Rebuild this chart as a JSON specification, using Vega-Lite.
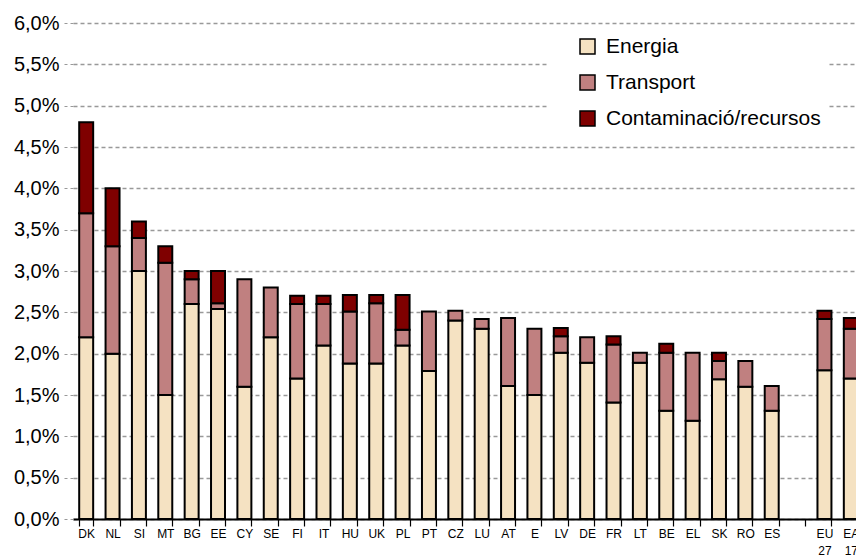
{
  "$schema": "https://vega.github.io/schema/vega-lite/v6.json",
  "autosize": {"type": "none"},
  "padding": {"left": 73, "top": 23, "right": 0, "bottom": 37},
  "width": 783,
  "height": 496,
  "background": "white",
  "config": {"view": {"stroke": null}, "font": "Liberation Sans"},
  "data": {"values": [
    {"country": "DK", "cat": "Energia", "value": 2.2}, {"country": "DK", "cat": "Transport", "value": 1.5}, {"country": "DK", "cat": "Contaminació/recursos", "value": 1.1},
    {"country": "NL", "cat": "Energia", "value": 2.0}, {"country": "NL", "cat": "Transport", "value": 1.3}, {"country": "NL", "cat": "Contaminació/recursos", "value": 0.7},
    {"country": "SI", "cat": "Energia", "value": 3.0}, {"country": "SI", "cat": "Transport", "value": 0.4}, {"country": "SI", "cat": "Contaminació/recursos", "value": 0.2},
    {"country": "MT", "cat": "Energia", "value": 1.5}, {"country": "MT", "cat": "Transport", "value": 1.6}, {"country": "MT", "cat": "Contaminació/recursos", "value": 0.2},
    {"country": "BG", "cat": "Energia", "value": 2.6}, {"country": "BG", "cat": "Transport", "value": 0.3}, {"country": "BG", "cat": "Contaminació/recursos", "value": 0.1},
    {"country": "EE", "cat": "Energia", "value": 2.54}, {"country": "EE", "cat": "Transport", "value": 0.07}, {"country": "EE", "cat": "Contaminació/recursos", "value": 0.39},
    {"country": "CY", "cat": "Energia", "value": 1.6}, {"country": "CY", "cat": "Transport", "value": 1.3},
    {"country": "SE", "cat": "Energia", "value": 2.2}, {"country": "SE", "cat": "Transport", "value": 0.6},
    {"country": "FI", "cat": "Energia", "value": 1.7}, {"country": "FI", "cat": "Transport", "value": 0.9}, {"country": "FI", "cat": "Contaminació/recursos", "value": 0.1},
    {"country": "IT", "cat": "Energia", "value": 2.1}, {"country": "IT", "cat": "Transport", "value": 0.5}, {"country": "IT", "cat": "Contaminació/recursos", "value": 0.1},
    {"country": "HU", "cat": "Energia", "value": 1.88}, {"country": "HU", "cat": "Transport", "value": 0.63}, {"country": "HU", "cat": "Contaminació/recursos", "value": 0.2},
    {"country": "UK", "cat": "Energia", "value": 1.88}, {"country": "UK", "cat": "Transport", "value": 0.73}, {"country": "UK", "cat": "Contaminació/recursos", "value": 0.1},
    {"country": "PL", "cat": "Energia", "value": 2.1}, {"country": "PL", "cat": "Transport", "value": 0.19}, {"country": "PL", "cat": "Contaminació/recursos", "value": 0.42},
    {"country": "PT", "cat": "Energia", "value": 1.79}, {"country": "PT", "cat": "Transport", "value": 0.72},
    {"country": "CZ", "cat": "Energia", "value": 2.4}, {"country": "CZ", "cat": "Transport", "value": 0.12},
    {"country": "LU", "cat": "Energia", "value": 2.3}, {"country": "LU", "cat": "Transport", "value": 0.12},
    {"country": "AT", "cat": "Energia", "value": 1.61}, {"country": "AT", "cat": "Transport", "value": 0.82},
    {"country": "E", "cat": "Energia", "value": 1.5}, {"country": "E", "cat": "Transport", "value": 0.8},
    {"country": "LV", "cat": "Energia", "value": 2.01}, {"country": "LV", "cat": "Transport", "value": 0.2}, {"country": "LV", "cat": "Contaminació/recursos", "value": 0.1},
    {"country": "DE", "cat": "Energia", "value": 1.89}, {"country": "DE", "cat": "Transport", "value": 0.31},
    {"country": "FR", "cat": "Energia", "value": 1.41}, {"country": "FR", "cat": "Transport", "value": 0.7}, {"country": "FR", "cat": "Contaminació/recursos", "value": 0.1},
    {"country": "LT", "cat": "Energia", "value": 1.89}, {"country": "LT", "cat": "Transport", "value": 0.12},
    {"country": "BE", "cat": "Energia", "value": 1.31}, {"country": "BE", "cat": "Transport", "value": 0.7}, {"country": "BE", "cat": "Contaminació/recursos", "value": 0.11},
    {"country": "EL", "cat": "Energia", "value": 1.19}, {"country": "EL", "cat": "Transport", "value": 0.82},
    {"country": "SK", "cat": "Energia", "value": 1.69}, {"country": "SK", "cat": "Transport", "value": 0.22}, {"country": "SK", "cat": "Contaminació/recursos", "value": 0.1},
    {"country": "RO", "cat": "Energia", "value": 1.6}, {"country": "RO", "cat": "Transport", "value": 0.31},
    {"country": "ES", "cat": "Energia", "value": 1.31}, {"country": "ES", "cat": "Transport", "value": 0.3},
    {"country": "EU 27", "cat": "Energia", "value": 1.8}, {"country": "EU 27", "cat": "Transport", "value": 0.62}, {"country": "EU 27", "cat": "Contaminació/recursos", "value": 0.1},
    {"country": "EA 17", "cat": "Energia", "value": 1.7}, {"country": "EA 17", "cat": "Transport", "value": 0.6}, {"country": "EA 17", "cat": "Contaminació/recursos", "value": 0.13}
  ]},
  "transform": [
    {"calculate": "datum.cat === 'Energia' ? 0 : datum.cat === 'Transport' ? 1 : 2", "as": "ord"}
  ],
  "mark": {"type": "bar", "stroke": "black", "strokeWidth": 2},
  "encoding": {
    "x": {
      "field": "country", "type": "nominal",
      "scale": {
        "domain": ["DK","NL","SI","MT","BG","EE","CY","SE","FI","IT","HU","UK","PL","PT","CZ","LU","AT","E","LV","DE","FR","LT","BE","EL","SK","RO","ES","gap","EU 27","EA 17"],
        "range": [0, 791],
        "paddingInner": 0.47,
        "paddingOuter": 0.235
      },
      "axis": {
        "title": null,
        "labelAngle": 0,
        "labelFontSize": 12,
        "labelColor": "black",
        "labelLineHeight": 17,
        "labelPadding": 2,
        "labelExpr": "!isString(datum.value) || datum.value == 'gap' ? '' : split(datum.value, ' ')",
        "domainColor": "black",
        "domainWidth": 2,
        "tickColor": "black",
        "tickWidth": 1.2,
        "tickSize": 7,
        "tickBand": "extent",
        "grid": false
      }
    },
    "y": {
      "field": "value", "type": "quantitative", "stack": "zero",
      "scale": {"domain": [0, 6], "nice": false},
      "axis": {
        "title": null,
        "values": [0, 0.5, 1, 1.5, 2, 2.5, 3, 3.5, 4, 4.5, 5, 5.5, 6],
        "labelExpr": "replace(format(datum.value, '.1f'), '.', ',') + '%'",
        "labelFontSize": 20,
        "labelColor": "black",
        "labelPadding": 4,
        "domain": false,
        "tickColor": "#999999",
        "tickDash": [3, 3],
        "tickSize": 10,
        "grid": true,
        "gridColor": "#999999",
        "gridDash": [4, 3],
        "gridWidth": 1.3
      }
    },
    "color": {
      "field": "cat", "type": "nominal",
      "scale": {
        "domain": ["Energia", "Transport", "Contaminació/recursos"],
        "range": ["#F5E2C2", "#C08080", "#7F0000"]
      },
      "legend": {
        "title": null,
        "orient": "none",
        "legendX": 476,
        "legendY": 5,
        "fillColor": "white",
        "padding": 8,
        "symbolOffset": 20,
        "symbolType": "square",
        "symbolSize": 225,
        "symbolStrokeColor": "black",
        "symbolStrokeWidth": 1.5,
        "labelFontSize": 21,
        "labelColor": "black",
        "labelOffset": 8,
        "labelLimit": 400,
        "rowPadding": 14
      }
    },
    "order": {"field": "ord", "type": "quantitative"}
  }
}
